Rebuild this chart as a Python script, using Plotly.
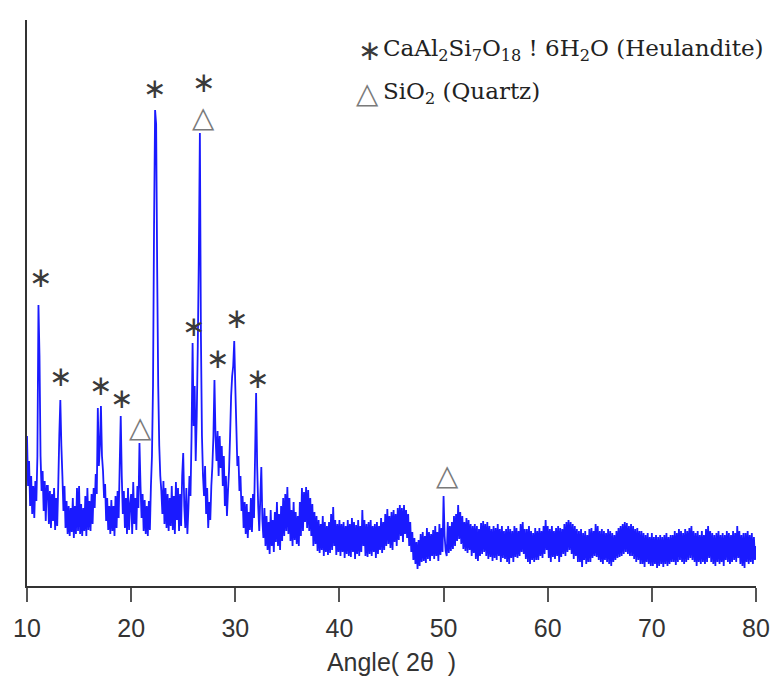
import numpy as np
import plotly.graph_objects as go

# 2theta sampling grid (deg) and intensities (arbitrary units)
two_theta = np.round(np.arange(10.0, 80.0001, 0.1), 1)

intensity = [
    150, 100, 125, 80, 110, 72, 100, 68, 105, 85,     # 10.0-10.9
    130, 281, 230, 130, 95, 115, 75, 105, 65, 100,    # 11.0-11.9
    100, 62, 95, 58, 92, 65, 98, 56, 88, 60,          # 12.0-12.9
    100, 150, 186, 140, 110, 75, 100, 58, 85, 52,     # 13.0-13.9
    80, 50, 78, 54, 88, 48, 80, 52, 98, 55,           # 14.0-14.9
    100, 52, 82, 50, 78, 55, 90, 50, 98, 56,          # 15.0-15.9
    85, 55, 92, 62, 98, 78, 112, 92, 178, 120,        # 16.0-16.9
    140, 180, 130, 115, 88, 102, 65, 88, 56, 80,      # 17.0-17.9
    52, 86, 55, 80, 50, 90, 58, 95, 68, 120,          # 18.0-18.9
    170, 110, 72, 95, 58, 88, 52, 98, 56, 82,         # 19.0-19.9
    92, 52, 104, 62, 88, 56, 100, 78, 143, 100,       # 20.0-20.9
    68, 92, 55, 86, 52, 80, 50, 85, 56, 100,          # 21.0-21.9
    130, 200, 360, 476, 462, 316, 200, 140, 110, 95,  # 22.0-22.9
    72, 105, 62, 98, 58, 92, 55, 88, 60, 100,         # 23.0-23.9
    56, 90, 52, 104, 66, 98, 55, 92, 60, 110,         # 24.0-24.9
    133, 80, 58, 98, 52, 78, 110, 90, 150, 243,       # 25.0-25.9
    160, 200, 125, 170, 240, 330, 453, 250, 150, 110, # 26.0-26.9
    90, 120, 72, 98, 58, 84, 66, 100, 120, 150,       # 27.0-27.9
    206, 150, 125, 155, 110, 150, 118, 140, 100, 130, # 28.0-28.9
    80, 110, 70, 95, 115, 150, 190, 210, 220, 245,    # 29.0-29.9
    200, 160, 120, 130, 95, 110, 75, 90, 58, 84,      # 30.0-30.9
    52, 82, 48, 74, 56, 88, 54, 92, 68, 130,          # 31.0-31.9
    193, 120, 80, 55, 88, 119, 66, 48, 78, 40,        # 32.0-32.9
    70, 36, 64, 32, 76, 40, 66, 34, 74, 44,           # 33.0-33.9
    84, 40, 72, 36, 80, 45, 88, 50, 92, 55,           # 34.0-34.9
    99, 52, 88, 45, 76, 40, 84, 46, 74, 42,           # 35.0-35.9
    70, 40, 84, 50, 98, 55, 94, 64, 99, 58,           # 36.0-36.9
    96, 55, 88, 50, 82, 40, 74, 42, 70, 35,           # 37.0-37.9
    66, 33, 62, 36, 70, 30, 64, 34, 60, 31,           # 38.0-38.9
    64, 33, 72, 36, 79, 40, 66, 31, 62, 34,           # 39.0-39.9
    66, 30, 62, 34, 64, 28, 60, 32, 66, 30,           # 40.0-40.9
    62, 29, 68, 34, 64, 27, 61, 32, 66, 30,           # 41.0-41.9
    60, 34, 76, 40, 66, 30, 62, 29, 64, 32,           # 42.0-42.9
    66, 30, 60, 34, 62, 28, 64, 32, 60, 36,           # 43.0-43.9
    68, 33, 64, 36, 72, 40, 77, 42, 70, 38,           # 44.0-44.9
    74, 36, 76, 44, 72, 40, 78, 46, 81, 50,           # 45.0-45.9
    78, 44, 81, 52, 76, 48, 72, 40, 64, 34,           # 46.0-46.9
    54, 26, 48, 22, 44, 17, 46, 20, 52, 24,           # 47.0-47.9
    54, 25, 50, 23, 58, 27, 54, 25, 52, 30,           # 48.0-48.9
    56, 27, 60, 30, 54, 25, 62, 31, 58, 34,           # 49.0-49.9
    90, 50, 35, 30, 64, 33, 60, 35, 64, 37,           # 50.0-50.9
    70, 40, 72, 45, 81, 47, 74, 42, 70, 37,           # 51.0-51.9
    64, 35, 68, 33, 66, 36, 62, 30, 60, 33,           # 52.0-52.9
    62, 27, 60, 25, 57, 30, 63, 32, 65, 34,           # 53.0-53.9
    62, 30, 64, 27, 60, 29, 57, 25, 60, 28,           # 54.0-54.9
    58, 26, 62, 30, 57, 24, 60, 28, 55, 27,           # 55.0-55.9
    57, 24, 60, 22, 57, 28, 55, 24, 60, 29,           # 56.0-56.9
    58, 28, 55, 30, 62, 34, 64, 32, 57, 27,           # 57.0-57.9
    57, 24, 60, 22, 55, 26, 53, 24, 58, 26,           # 58.0-58.9
    55, 26, 58, 30, 55, 28, 60, 32, 66, 36,           # 59.0-59.9
    60, 28, 57, 24, 60, 29, 55, 27, 58, 30,           # 60.0-60.9
    60, 24, 58, 29, 57, 32, 62, 30, 64, 34,           # 61.0-61.9
    66, 36, 64, 32, 62, 27, 60, 30, 57, 24,           # 62.0-62.9
    55, 24, 57, 19, 53, 26, 55, 22, 51, 24,           # 63.0-63.9
    57, 24, 58, 28, 55, 30, 62, 29, 60, 26,           # 64.0-64.9
    55, 24, 57, 22, 55, 26, 53, 24, 57, 22,           # 65.0-65.9
    55, 20, 53, 24, 51, 26, 55, 28, 58, 29,           # 66.0-66.9
    60, 30, 62, 32, 64, 34, 63, 32, 60, 30,           # 67.0-67.9
    62, 30, 60, 27, 57, 24, 58, 26, 55, 22,           # 68.0-68.9
    55, 22, 53, 19, 51, 24, 53, 22, 49, 20,           # 69.0-69.9
    53, 20, 49, 22, 51, 18, 49, 20, 51, 22,           # 70.0-70.9
    49, 19, 51, 22, 53, 20, 49, 22, 51, 24,           # 71.0-71.9
    51, 24, 55, 21, 53, 24, 57, 26, 55, 24,           # 72.0-72.9
    53, 22, 57, 24, 55, 26, 58, 28, 60, 26,           # 73.0-73.9
    55, 24, 53, 20, 55, 24, 51, 22, 55, 24,           # 74.0-74.9
    51, 22, 57, 24, 60, 28, 55, 24, 53, 22,           # 75.0-75.9
    51, 20, 53, 24, 55, 22, 51, 24, 53, 20,           # 76.0-76.9
    51, 26, 55, 24, 53, 22, 51, 24, 55, 26,           # 77.0-77.9
    53, 24, 60, 28, 55, 22, 51, 20, 53, 18,           # 78.0-78.9
    53, 24, 55, 22, 51, 24, 53, 22, 49, 26,           # 79.0-79.9
    40,                                               # 80.0
]

# phase markers above peaks
star_x = [11.25, 13.17, 17.01, 19.12, 22.29, 26.9, 25.94, 28.25, 30.07, 32.18]
star_y = [309, 210, 201, 188, 498, 504, 260, 228, 268, 208]
tri_x = [20.85, 26.9, 50.33]
tri_y = [159, 469, 111]

x_ticks = [10, 20, 30, 40, 50, 60, 70, 80]
x_title = "Angle( 2θ\u00a0\u00a0)"
legend_lines = [
    "CaAl<sub>2</sub>Si<sub>7</sub>O<sub>18</sub> ! 6H<sub>2</sub>O (Heulandite)",
    "SiO<sub>2</sub> (Quartz)",
]

STAR_FONT = dict(family="DejaVu Sans", size=28, color="#3a3a3a")
TRI_FONT = dict(family="DejaVu Sans", size=29, color="#7a7a7a")
LEG_FONT = dict(family="DejaVu Serif", size=23, color="#222222")

fig = go.Figure()
fig.add_trace(go.Scatter(
    x=two_theta, y=intensity, mode="lines",
    line=dict(color="#1a1aff", width=1.8, simplify=False),
    showlegend=False, hoverinfo="skip",
))

annotations = []
for xv, yv in zip(star_x, star_y):
    annotations.append(dict(x=xv, y=yv, xref="x", yref="y", text="∗",
                            showarrow=False, xanchor="center", yanchor="middle",
                            font=STAR_FONT))
for xv, yv in zip(tri_x, tri_y):
    annotations.append(dict(x=xv, y=yv, xref="x", yref="y", text="△",
                            showarrow=False, xanchor="center", yanchor="middle",
                            font=TRI_FONT))

# legend block (top right)
annotations.append(dict(x=42.84, y=536, xref="x", yref="y", text="∗",
                        showarrow=False, xanchor="center", yanchor="middle",
                        font=STAR_FONT))
annotations.append(dict(x=44.0, y=536, xref="x", yref="y", text=legend_lines[0],
                        showarrow=False, xanchor="left", yanchor="middle",
                        font=LEG_FONT))
annotations.append(dict(x=42.74, y=493, xref="x", yref="y", text="△",
                        showarrow=False, xanchor="center", yanchor="middle",
                        font=TRI_FONT))
annotations.append(dict(x=44.0, y=493, xref="x", yref="y", text=legend_lines[1],
                        showarrow=False, xanchor="left", yanchor="middle",
                        font=LEG_FONT))

fig.update_layout(
    width=775, height=681,
    margin=dict(l=27, r=19, t=20, b=95, autoexpand=False),
    paper_bgcolor="white", plot_bgcolor="white",
    annotations=annotations,
    xaxis=dict(
        range=[10, 80], tickvals=x_ticks, ticktext=[str(v) for v in x_ticks],
        automargin=False,
        showline=True, linecolor="#333333", linewidth=2,
        ticks="outside", ticklen=14, tickwidth=1.5, tickcolor="#555555",
        ticklabelstandoff=5,
        tickfont=dict(family="Liberation Sans", size=25, color="#333333"),
        showgrid=False, zeroline=False,
        title=dict(text=x_title, font=dict(family="Liberation Sans", size=25, color="#333333"),
                   standoff=12),
    ),
    yaxis=dict(
        range=[0, 566], showline=True, linecolor="#333333", linewidth=2,
        automargin=False,
        showticklabels=False, ticks="", showgrid=False, zeroline=False,
    ),
)

fig.write_html("out.html")
